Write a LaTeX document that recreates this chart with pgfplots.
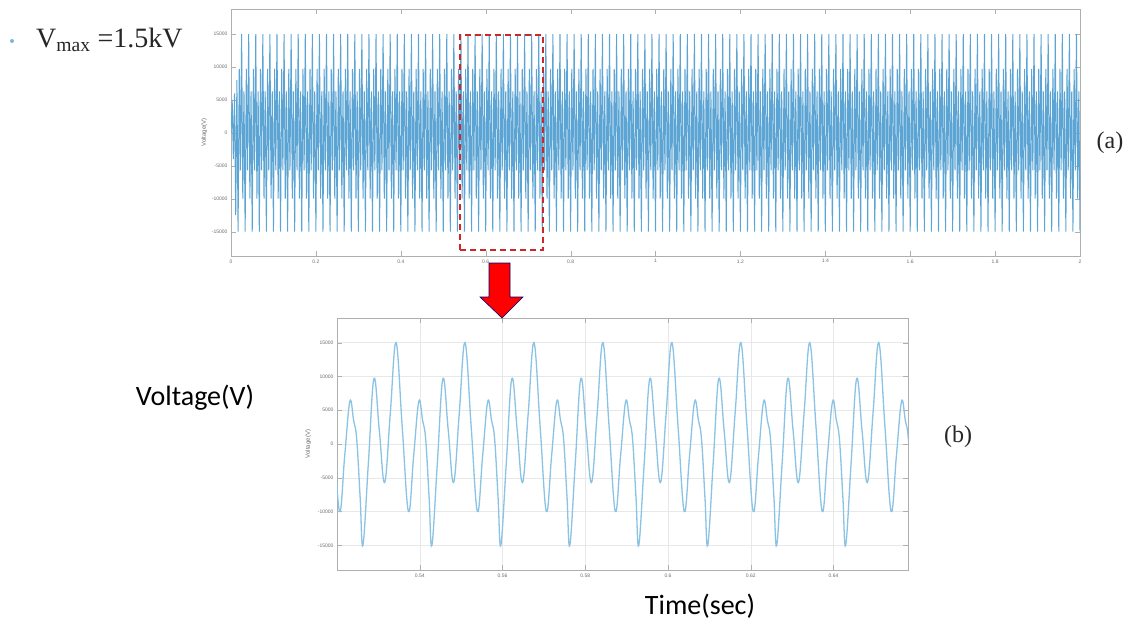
\documentclass[border=0pt]{standalone}
\usepackage{pgfplots}
\usepackage{pgfplotstable}
\pgfplotsset{compat=1.18}
\usepackage{fontspec}
\setmainfont{Carlito}
\newfontfamily\tickfont{Liberation Sans}
\newfontfamily\seriffont{Liberation Serif}

\definecolor{waveA}{RGB}{92,164,212}
\definecolor{waveB}{RGB}{138,195,228}
\definecolor{axgray}{RGB}{175,175,175}
\definecolor{boxred}{RGB}{205,40,40}

% full record, 6 samples per 60 Hz cycle (1/360 s apart)
\pgfplotstableread[row sep=\\, header=false]{
0\\5000\\-4000\\6000\\-12500\\8000\\
-15000\\9700\\-5700\\15000\\-10000\\6300\\
-15000\\9700\\-5700\\15000\\-10000\\6300\\
-15000\\9700\\-5700\\15000\\-10000\\6300\\
-15000\\9700\\-5700\\15000\\-10000\\6300\\
-15000\\9700\\-5700\\15000\\-10000\\6300\\
-15000\\9700\\-5700\\15000\\-10000\\6300\\
-15000\\9700\\-5700\\15000\\-10000\\6300\\
-15000\\9700\\-5700\\15000\\-10000\\6300\\
-15000\\9700\\-5700\\15000\\-10000\\6300\\
-15000\\9700\\-5700\\15000\\-10000\\6300\\
-15000\\9700\\-5700\\15000\\-10000\\6300\\
-15000\\9700\\-5700\\15000\\-10000\\6300\\
-15000\\9700\\-5700\\15000\\-10000\\6300\\
-15000\\9700\\-5700\\15000\\-10000\\6300\\
-15000\\9700\\-5700\\15000\\-10000\\6300\\
-15000\\9700\\-5700\\15000\\-10000\\6300\\
-15000\\9700\\-5700\\15000\\-10000\\6300\\
-15000\\9700\\-5700\\15000\\-10000\\6300\\
-15000\\9700\\-5700\\15000\\-10000\\6300\\
-15000\\9700\\-5700\\15000\\-10000\\6300\\
-15000\\9700\\-5700\\15000\\-10000\\6300\\
-15000\\9700\\-5700\\15000\\-10000\\6300\\
-15000\\9700\\-5700\\15000\\-10000\\6300\\
-15000\\9700\\-5700\\15000\\-10000\\6300\\
-15000\\9700\\-5700\\15000\\-10000\\6300\\
-15000\\9700\\-5700\\15000\\-10000\\6300\\
-15000\\9700\\-5700\\15000\\-10000\\6300\\
-15000\\9700\\-5700\\15000\\-10000\\6300\\
-15000\\9700\\-5700\\15000\\-10000\\6300\\
-15000\\9700\\-5700\\15000\\-10000\\6300\\
-15000\\9700\\-5700\\15000\\-10000\\6300\\
-15000\\9700\\-5700\\15000\\-10000\\6300\\
-15000\\9700\\-5700\\15000\\-10000\\6300\\
-15000\\9700\\-5700\\15000\\-10000\\6300\\
-15000\\9700\\-5700\\15000\\-10000\\6300\\
-15000\\9700\\-5700\\15000\\-10000\\6300\\
-15000\\9700\\-5700\\15000\\-10000\\6300\\
-15000\\9700\\-5700\\15000\\-10000\\6300\\
-15000\\9700\\-5700\\15000\\-10000\\6300\\
-15000\\9700\\-5700\\15000\\-10000\\6300\\
-15000\\9700\\-5700\\15000\\-10000\\6300\\
-15000\\9700\\-5700\\15000\\-10000\\6300\\
-15000\\9700\\-5700\\15000\\-10000\\6300\\
-15000\\9700\\-5700\\15000\\-10000\\6300\\
-15000\\9700\\-5700\\15000\\-10000\\6300\\
-15000\\9700\\-5700\\15000\\-10000\\6300\\
-15000\\9700\\-5700\\15000\\-10000\\6300\\
-15000\\9700\\-5700\\15000\\-10000\\6300\\
-15000\\9700\\-5700\\15000\\-10000\\6300\\
-15000\\9700\\-5700\\15000\\-10000\\6300\\
-15000\\9700\\-5700\\15000\\-10000\\6300\\
-15000\\9700\\-5700\\15000\\-10000\\6300\\
-15000\\9700\\-5700\\15000\\-10000\\6300\\
-15000\\9700\\-5700\\15000\\-10000\\6300\\
-15000\\9700\\-5700\\15000\\-10000\\6300\\
-15000\\9700\\-5700\\15000\\-10000\\6300\\
-15000\\9700\\-5700\\15000\\-10000\\6300\\
-15000\\9700\\-5700\\15000\\-10000\\6300\\
-15000\\9700\\-5700\\15000\\-10000\\6300\\
-15000\\9700\\-5700\\15000\\-10000\\6300\\
-15000\\9700\\-5700\\15000\\-10000\\6300\\
-15000\\9700\\-5700\\15000\\-10000\\6300\\
-15000\\9700\\-5700\\15000\\-10000\\6300\\
-15000\\9700\\-5700\\15000\\-10000\\6300\\
-15000\\9700\\-5700\\15000\\-10000\\6300\\
-15000\\9700\\-5700\\15000\\-10000\\6300\\
-15000\\9700\\-5700\\15000\\-10000\\6300\\
-15000\\9700\\-5700\\15000\\-10000\\6300\\
-15000\\9700\\-5700\\15000\\-10000\\6300\\
-15000\\9700\\-5700\\15000\\-10000\\6300\\
-15000\\9700\\-5700\\15000\\-10000\\6300\\
-15000\\9700\\-5700\\15000\\-10000\\6300\\
-15000\\9700\\-5700\\15000\\-10000\\6300\\
-15000\\9700\\-5700\\15000\\-10000\\6300\\
-15000\\9700\\-5700\\15000\\-10000\\6300\\
-15000\\9700\\-5700\\15000\\-10000\\6300\\
-15000\\9700\\-5700\\15000\\-10000\\6300\\
-15000\\9700\\-5700\\15000\\-10000\\6300\\
-15000\\9700\\-5700\\15000\\-10000\\6300\\
-15000\\9700\\-5700\\15000\\-10000\\6300\\
-15000\\9700\\-5700\\15000\\-10000\\6300\\
-15000\\9700\\-5700\\15000\\-10000\\6300\\
-15000\\9700\\-5700\\15000\\-10000\\6300\\
-15000\\9700\\-5700\\15000\\-10000\\6300\\
-15000\\9700\\-5700\\15000\\-10000\\6300\\
-15000\\9700\\-5700\\15000\\-10000\\6300\\
-15000\\9700\\-5700\\15000\\-10000\\6300\\
-15000\\9700\\-5700\\15000\\-10000\\6300\\
-15000\\9700\\-5700\\15000\\-10000\\6300\\
-15000\\9700\\-5700\\15000\\-10000\\6300\\
-15000\\9700\\-5700\\15000\\-10000\\6300\\
-15000\\9700\\-5700\\15000\\-10000\\6300\\
-15000\\9700\\-5700\\15000\\-10000\\6300\\
-15000\\9700\\-5700\\15000\\-10000\\6300\\
-15000\\9700\\-5700\\15000\\-10000\\6300\\
-15000\\9700\\-5700\\15000\\-10000\\6300\\
-15000\\9700\\-5700\\15000\\-10000\\6300\\
-15000\\9700\\-5700\\15000\\-10000\\6300\\
-15000\\9700\\-5700\\15000\\-10000\\6300\\
-15000\\9700\\-5700\\15000\\-10000\\6300\\
-15000\\9700\\-5700\\15000\\-10000\\6300\\
-15000\\9700\\-5700\\15000\\-10000\\6300\\
-15000\\9700\\-5700\\15000\\-10000\\6300\\
-15000\\9700\\-5700\\15000\\-10000\\6300\\
-15000\\9700\\-5700\\15000\\-10000\\6300\\
-15000\\9700\\-5700\\15000\\-10000\\6300\\
-15000\\9700\\-5700\\15000\\-10000\\6300\\
-15000\\9700\\-5700\\15000\\-10000\\6300\\
-15000\\9700\\-5700\\15000\\-10000\\6300\\
-15000\\9700\\-5700\\15000\\-10000\\6300\\
-15000\\9700\\-5700\\15000\\-10000\\6300\\
-15000\\9700\\-5700\\15000\\-10000\\6300\\
-15000\\9700\\-5700\\15000\\-10000\\6300\\
-15000\\9700\\-5700\\15000\\-10000\\6300\\
-15000\\9700\\-5700\\15000\\-10000\\6300\\
-15000\\9700\\-5700\\15000\\-10000\\6300\\
-15000\\9700\\-5700\\15000\\-10000\\6300\\
-15000\\9700\\-5700\\15000\\-10000\\6300\\
-15000\\9700\\-5700\\15000\\-10000\\6300\\
-15000\\
}\topdata

% zoomed window 0.52 - 0.658 s
\pgfplotstableread{
t v
0.519100 2500
0.520600 -10000
0.521850 -1850
0.523100 6300
0.524017 3500
0.524767 700
0.525600 -8000
0.526267 -15000
0.527600 -2650
0.528933 9700
0.530225 2000
0.531517 -5700
0.532892 4650
0.534267 15000
0.535767 2500
0.537267 -10000
0.538517 -1850
0.539767 6300
0.540683 3500
0.541433 700
0.542267 -8000
0.542933 -15000
0.544267 -2650
0.545600 9700
0.546892 2000
0.548183 -5700
0.549558 4650
0.550933 15000
0.552433 2500
0.553933 -10000
0.555183 -1850
0.556433 6300
0.557350 3500
0.558100 700
0.558933 -8000
0.559600 -15000
0.560933 -2650
0.562267 9700
0.563558 2000
0.564850 -5700
0.566225 4650
0.567600 15000
0.569100 2500
0.570600 -10000
0.571850 -1850
0.573100 6300
0.574017 3500
0.574767 700
0.575600 -8000
0.576267 -15000
0.577600 -2650
0.578933 9700
0.580225 2000
0.581517 -5700
0.582892 4650
0.584267 15000
0.585767 2500
0.587267 -10000
0.588517 -1850
0.589767 6300
0.590683 3500
0.591433 700
0.592267 -8000
0.592933 -15000
0.594267 -2650
0.595600 9700
0.596892 2000
0.598183 -5700
0.599558 4650
0.600933 15000
0.602433 2500
0.603933 -10000
0.605183 -1850
0.606433 6300
0.607350 3500
0.608100 700
0.608933 -8000
0.609600 -15000
0.610933 -2650
0.612267 9700
0.613558 2000
0.614850 -5700
0.616225 4650
0.617600 15000
0.619100 2500
0.620600 -10000
0.621850 -1850
0.623100 6300
0.624017 3500
0.624767 700
0.625600 -8000
0.626267 -15000
0.627600 -2650
0.628933 9700
0.630225 2000
0.631517 -5700
0.632892 4650
0.634267 15000
0.635767 2500
0.637267 -10000
0.638517 -1850
0.639767 6300
0.640683 3500
0.641433 700
0.642267 -8000
0.642933 -15000
0.644267 -2650
0.645600 9700
0.646892 2000
0.648183 -5700
0.649558 4650
0.650933 15000
0.652433 2500
0.653933 -10000
0.655183 -1850
0.656433 6300
0.657350 3500
0.658100 700
0.658933 -8000
}\zoomdata

\pgfplotsset{
  matlab/.style={
    scale only axis,
    anchor=south west,
    axis line style={axgray},
    tick style={axgray},
    major tick length=5pt,
    tick align=inside,
    scaled ticks=false,
    /pgf/number format/1000 sep={},
    /pgf/number format/assume math mode=true,
    tick label style={font=\tickfont\fontsize{5}{6}\selectfont, text=gray!85!black},
    label style={font=\tickfont\fontsize{6}{7}\selectfont, text=gray!85!black},
    ytick={-15000,-10000,-5000,0,5000,10000,15000},
    ylabel={Voltage(V)},
  }
}

\begin{document}
\begin{tikzpicture}
\useasboundingbox (0,0) rectangle (1139pt,622pt);

% (a) full record
\begin{axis}[matlab,
    at={(231pt,366pt)}, width=849pt, height=247pt,
    xmin=0, xmax=2, ymin=-18700, ymax=18800,
    xtick={0,0.2,0.4,0.6,0.8,1,1.2,1.4,1.6,1.8,2},
    ylabel style={yshift=-2pt},
  ]
  \addplot[waveA, line width=1pt] table[x expr=\coordindex/360, y index=0] {\topdata};
\end{axis}

% (b) zoomed window
\begin{axis}[matlab,
    at={(337pt,52pt)}, width=571pt, height=252pt,
    xmin=0.52, xmax=0.658, ymin=-18650, ymax=18650,
    xtick={0.54,0.56,0.58,0.6,0.62,0.64},
    grid=major, grid style={gray!18, line width=0.5pt},
  ]
  \addplot[waveB, line width=1.3pt, smooth, tension=0.65] table[x=t, y=v] {\zoomdata};
\end{axis}

% zoom window marker and arrow
\draw[boxred, line width=1.6pt, dash pattern=on 6pt off 4pt] (460pt,372pt) rectangle (543pt,587pt);
\filldraw[fill=red, draw=blue!45!black, line width=0.6pt]
  (489pt,359pt) -- (510pt,359pt) -- (510pt,325pt) -- (523pt,325pt) -- (502pt,304pt)
  -- (480pt,325pt) -- (489pt,325pt) -- cycle;

% annotations
\fill[waveA!80] (12pt,581pt) circle (2pt);
\node[anchor=west, inner sep=0pt, font=\seriffont\fontsize{28}{30}\selectfont, text=black!85] at (36pt,582pt) {V\textsubscript{max} =1.5kV};
\node[font=\seriffont\fontsize{24}{28}\selectfont, text=black!85] at (1110pt,479pt) {(a)};
\node[font=\seriffont\fontsize{24}{28}\selectfont, text=black!85] at (958pt,185pt) {(b)};
\node[font=\fontsize{28}{32}\selectfont] at (195pt,224pt) {Voltage(V)};
\node[font=\fontsize{28}{32}\selectfont] at (700pt,16pt) {Time(sec)};
\end{tikzpicture}
\end{document}
